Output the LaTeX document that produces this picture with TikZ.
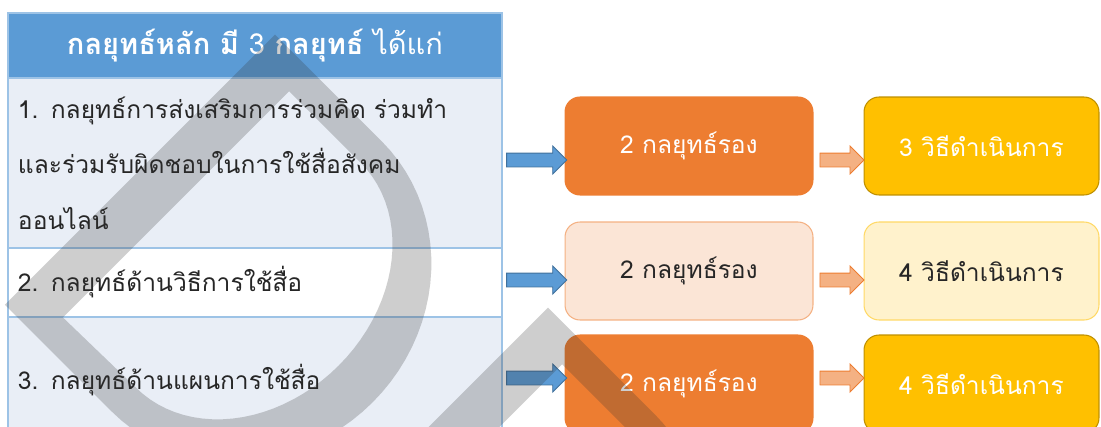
\documentclass[tikz,border=0pt]{standalone}
\usepackage{fontspec}
\setmainfont[Script=Thai]{Loma}
\usetikzlibrary{positioning,shapes.arrows}
\definecolor{hdrblue}{HTML}{5B9BD5}
\definecolor{gridblue}{HTML}{9DC3E6}
\definecolor{rowblue}{HTML}{E9EEF6}
\definecolor{arrline}{HTML}{41719C}
\definecolor{suborange}{HTML}{ED7D31}
\definecolor{subpale}{HTML}{FBE5D6}
\definecolor{subline}{HTML}{F4B183}
\definecolor{methyellow}{HTML}{FFC000}
\definecolor{methline}{HTML}{BF9000}
\definecolor{methpale}{HTML}{FFF2CC}
\definecolor{methpaleline}{HTML}{FFD966}
\tikzset{
  cell/.style={draw=gridblue,line width=0.8pt,anchor=north west,outer sep=0pt,
    inner xsep=0.2cm,text width=9.48cm,align=left,text=black!85,
    font=\fontsize{14}{31.5}\selectfont},
  hdrcell/.style={cell,fill=hdrblue,text=white,align=center,minimum height=1.3cm,
    font=\fontsize{16.5}{18}\selectfont},
  subbox/.style={rounded corners=0.3cm,minimum width=4.96cm,minimum height=1.96cm,
    font=\fontsize{14}{16}\selectfont,line width=0.6pt},
  methbox/.style={subbox,minimum width=4.7cm},
  bluearr/.style={single arrow,draw=arrline,fill=hdrblue,line width=0.5pt,inner sep=0pt,
    text height=0.26cm,text depth=0pt,single arrow head extend=0.14cm,minimum height=1.2cm},
  orarr/.style={bluearr,draw=suborange,fill=subline,minimum height=0.88cm}
}
\begin{document}
\begin{tikzpicture}[x=0.02cm,y=-0.02cm]
\clip (0,0) rectangle (1101,426);
% table of main strategies
\node[hdrcell] (head) at (8,13) {{\bfseries กลยุทธ์หลัก มี} 3 {\bfseries กลยุทธ์} ได้แก่};
\node[cell,fill=rowblue,minimum height=3.4cm,below=0pt of head] (row1)
  {1. กลยุทธ์การส่งเสริมการร่วมคิด ร่วมทำ\\และร่วมรับผิดชอบในการใช้สื่อสังคม\\ออนไลน์};
\node[cell,fill=white,minimum height=1.38cm,below=0pt of row1] (row2) {2. กลยุทธ์ด้านวิธีการใช้สื่อ};
\node[cell,fill=rowblue,minimum height=2.52cm,below=0pt of row2] (row3) {3. กลยุทธ์ด้านแผนการใช้สื่อ};

% sub strategies and methods
\node[subbox,fill=suborange,draw=suborange,text=white] (subA) at (689,146) {2 กลยุทธ์รอง};
\node[subbox,fill=subpale,draw=subline,text=black!85] (subB) at (689,271) {2 กลยุทธ์รอง};
\node[subbox,fill=suborange,draw=suborange,text=white] (subC) at (689,384) {2 กลยุทธ์รอง};
\node[methbox,fill=methyellow,draw=methline,text=white,right=1cm of subA] (methA) {3 วิธีดำเนินการ};
\node[methbox,fill=methpale,draw=methpaleline,text=black!85,right=1cm of subB] (methB) {4 วิธีดำเนินการ};
\node[methbox,fill=methyellow,draw=methline,text=white,right=1cm of subC] (methC) {4 วิธีดำเนินการ};

\coordinate (yA) at (0,160);
\coordinate (yB) at (0,280);
\coordinate (yC) at (0,378);
\path (row1.east |- yA) -- (subA.west |- yA) node[midway,bluearr] {};
\path (row2.east |- yB) -- (subB.west |- yB) node[midway,bluearr] {};
\path (row3.east |- yC) -- (subC.west |- yC) node[midway,bluearr] {};
\path (subA.east |- yA) -- (methA.west |- yA) node[midway,orarr] {};
\path (subB.east |- yB) -- (methB.west |- yB) node[midway,orarr] {};
\path (subC.east |- yC) -- (methC.west |- yC) node[midway,orarr] {};

% watermark
\begin{scope}[x={(0.014142cm,-0.014142cm)},y={(0.014142cm,0.014142cm)}]
\foreach \s in {0,386}{
  \fill[black!80,opacity=0.24,even odd rule]
    (219+\s,-212) -- (219+\s,170) -- (370+\s,170)
    -- plot[domain=90:-90,samples=45] ({370+\s+178*cos(\x)},{-21+191*sin(\x)}) -- cycle
    (269+\s,-180) -- (269+\s,140) -- (370+\s,140)
    -- plot[domain=90:-90,samples=45] ({370+\s+128*cos(\x)},{-19+159*sin(\x)}) -- cycle;
}
\end{scope}
\end{tikzpicture}
\end{document}
